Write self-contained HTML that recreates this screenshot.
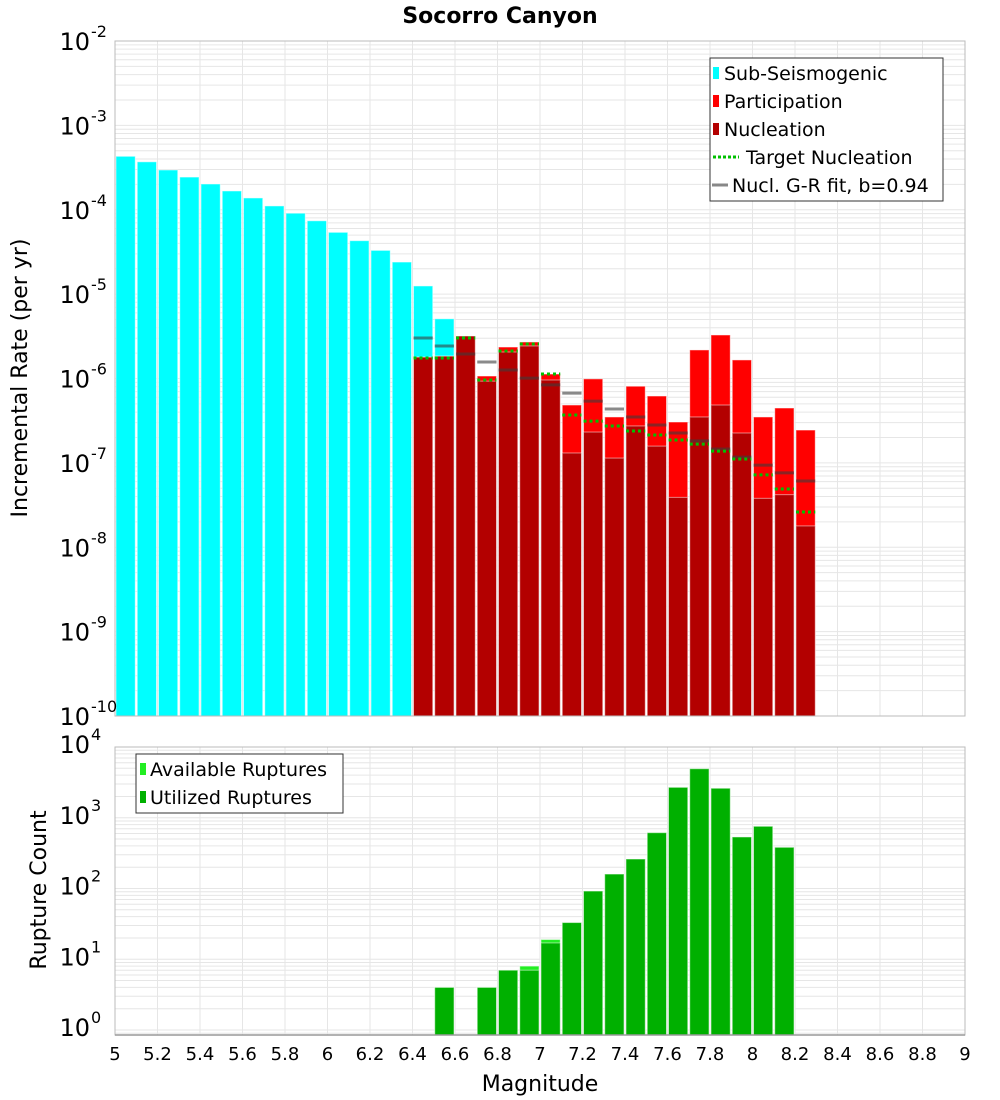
<!DOCTYPE html>
<html><head><meta charset="utf-8"><style>
body{margin:0;background:#fff;}
svg{display:block;font-family:"DejaVu Sans","Liberation Sans",sans-serif;}
</style></head><body>
<svg id="chart" width="1000" height="1100" xmlns="http://www.w3.org/2000/svg">
<text x="500" y="23" text-anchor="middle" font-size="22" font-weight="bold">Socorro Canyon</text>
<g id="topPlot"></g>
<g id="botPlot"></g>
<text transform="translate(27,378) rotate(-90)" text-anchor="middle" font-size="22">Incremental Rate (per yr)</text>
<text transform="translate(46,890) rotate(-90)" text-anchor="middle" font-size="22">Rupture Count</text>
<text x="540" y="1091" text-anchor="middle" font-size="22">Magnitude</text>
</svg>
<script>
const subMags=[5.05,5.15,5.25,5.35,5.45,5.55,5.65,5.75,5.85,5.95,6.05,6.15,6.25,6.35,6.45,6.55];
const subRates=[4.3e-4,3.7e-4,2.96e-4,2.44e-4,2.02e-4,1.67e-4,1.38e-4,1.11e-4,9.1e-5,7.4e-5,5.4e-5,4.3e-5,3.3e-5,2.4e-5,1.25e-5,5.1e-6];
const faultMags=[6.45,6.55,6.65,6.75,6.85,6.95,7.05,7.15,7.25,7.35,7.45,7.55,7.65,7.75,7.85,7.95,8.05,8.15,8.25];
const partRates=[1.8e-6,1.85e-6,3.19e-6,1.07e-6,2.36e-6,2.71e-6,1.13e-6,4.85e-7,9.9e-7,3.5e-7,8.1e-7,6.2e-7,3.05e-7,2.18e-6,3.28e-6,1.66e-6,3.5e-7,4.47e-7,2.45e-7];
const nuclRates=[1.8e-6,1.85e-6,3.19e-6,9.3e-7,2.06e-6,2.43e-6,9.6e-7,1.31e-7,2.32e-7,1.14e-7,2.74e-7,1.58e-7,3.9e-8,3.5e-7,4.85e-7,2.26e-7,3.8e-8,4.2e-8,1.79e-8];
const targetRates=[1.75e-6,1.75e-6,3.02e-6,9.6e-7,2.12e-6,2.56e-6,1.13e-6,3.69e-7,3.13e-7,2.74e-7,2.39e-7,2.14e-7,1.87e-7,1.67e-7,1.38e-7,1.11e-7,7.2e-8,4.9e-8,2.62e-8];
const grRates=[3.02e-6,2.43e-6,1.95e-6,1.57e-6,1.26e-6,1.01e-6,8.4e-7,6.7e-7,5.4e-7,4.35e-7,3.5e-7,2.81e-7,2.26e-7,1.82e-7,1.46e-7,1.17e-7,9.4e-8,7.6e-8,6.1e-8];
const countMags=[6.55,6.75,6.85,6.95,7.05,7.15,7.25,7.35,7.45,7.55,7.65,7.75,7.85,7.95,8.05,8.15];
const availCounts=[4,4,7,8,19,33,92,160,261,615,2690,4930,2610,535,757,382];
const usedCounts=[4,4,7,7,17,33,92,160,261,615,2690,4930,2610,535,757,382];
const xTicks=[5,5.2,5.4,5.6,5.8,6,6.2,6.4,6.6,6.8,7,7.2,7.4,7.6,7.8,8,8.2,8.4,8.6,8.8,9];
const topExps=[-2,-3,-4,-5,-6,-7,-8,-9,-10];
const botExps=[4,3,2,1,0];

const NS="http://www.w3.org/2000/svg";
const X0=115,X1=965;
const xs=m=>X0+(m-5)/4*(X1-X0);
const BW=(X1-X0)/40;
const T0=41,T1=716;
const yTop=v=>T0+(-2-Math.log10(v))/8*(T1-T0);
const B0=747,B1=1035,BD=70.75;
const yBot=v=>B0+(4-Math.log10(v))*BD;
function mk(p,tag,a){const e=document.createElementNS(NS,tag);for(const k in a)e.setAttribute(k,a[k]);p.appendChild(e);return e;}
const topG=document.getElementById('topPlot'),botG=document.getElementById('botPlot');

function grid(g,y0,y1,decs,yf){
  mk(g,'rect',{x:X0,y:y0,width:X1-X0,height:y1-y0,fill:'#fff'});
  decs.forEach(e=>{for(let k=1;k<10;k++){const y=yf(k*Math.pow(10,e));if(y>=y0&&y<=y1){mk(g,'line',{x1:X0,x2:X1,y1:y,y2:y,stroke:'#e6e6e6','stroke-width':1});}}});
  xTicks.forEach(m=>{mk(g,'line',{x1:xs(m),x2:xs(m),y1:y0,y2:y1,stroke:'#e6e6e6','stroke-width':1});});
}
grid(topG,T0,T1,[-3,-4,-5,-6,-7,-8,-9,-10],yTop);
grid(botG,B0,B1,[-1,0,1,2,3],yBot);

function bar(g,m,v,base,fill,name,yf){
  const y=yf(v);const r=mk(g,'rect',{x:xs(m)-BW/2+1,y:y,width:BW-2,height:Math.max(0,base-y),fill:fill,stroke:'rgba(255,255,255,0.5)','stroke-width':1});
  
  
}
partRates.forEach((v,i)=>bar(topG,faultMags[i],v,T1,'#ff0000','participation-bar',yTop));
nuclRates.forEach((v,i)=>bar(topG,faultMags[i],v,T1,'#b30000','nucleation-bar',yTop));
subRates.forEach((v,i)=>{const m=subMags[i];const idx=faultMags.indexOf(m);const base=idx>=0?yTop(nuclRates[idx]):T1;bar(topG,m,v,base,'#00ffff','sub-seismogenic-bar',yTop);});
grRates.forEach((v,i)=>{const m=faultMags[i],y=yTop(v);const l=mk(topG,'line',{x1:xs(m)-BW/2+1,x2:xs(m)+BW/2-1,y1:y,y2:y,stroke:'rgba(60,60,60,0.6)','stroke-width':3});
  
  });
targetRates.forEach((v,i)=>{const m=faultMags[i],y=yTop(v);const l=mk(topG,'line',{x1:xs(m)-BW/2+1,x2:xs(m)+BW/2-1,y1:y,y2:y,stroke:'#00c000','stroke-width':3,'stroke-dasharray':'3,3'});
  
  });
availCounts.forEach((v,i)=>bar(botG,countMags[i],v,B1,'#22ee22','available-ruptures-bar',yBot));
usedCounts.forEach((v,i)=>bar(botG,countMags[i],v,B1,'#00b000','utilized-ruptures-bar',yBot));

mk(topG,'rect',{x:X0,y:T0,width:X1-X0,height:T1-T0,fill:'none',stroke:'#bbb'});
mk(botG,'rect',{x:X0,y:B0,width:X1-X0,height:B1-B0,fill:'none',stroke:'#bbb'});
mk(botG,'line',{x1:X0,x2:X1,y1:B1,y2:B1,stroke:'#999','stroke-width':1.5});

function ylab(g,e,y,name){const t=mk(g,'text',{x:90,y:y+9,'text-anchor':'end','font-size':24});t.textContent='10';
  
  
  const s=mk(g,'text',{x:91,y:y-4,'font-size':16});s.textContent=String(e);}
topExps.forEach(e=>ylab(topG,e,yTop(Math.pow(10,e)),'top-y-tick-label'));
botExps.forEach(e=>ylab(botG,e,yBot(Math.pow(10,e))-3,'bottom-y-tick-label'));
xTicks.forEach(m=>{const t=mk(botG,'text',{x:xs(m),y:1060,'text-anchor':'middle','font-size':18});t.textContent=String(m);
  
  });

const lg=mk(topG,'g',{});


mk(lg,'rect',{x:710,y:58,width:233,height:143,fill:'#fff',stroke:'#333'});
[['Sub-Seismogenic','#00ffff'],['Participation','#ff0000'],['Nucleation','#b30000']].forEach((d,i)=>{const y=73+i*28;
  mk(lg,'rect',{x:713,y:y-6,width:6,height:12,fill:d[1]});const tt=mk(lg,'text',{x:724,y:y+7,'font-size':19});tt.textContent=d[0];});
mk(lg,'line',{x1:713,x2:739,y1:157,y2:157,stroke:'#00c000','stroke-width':3,'stroke-dasharray':'3,2'});
let lt=mk(lg,'text',{x:746,y:164,'font-size':19});lt.textContent='Target Nucleation';
mk(lg,'line',{x1:712,x2:728,y1:185,y2:185,stroke:'#888','stroke-width':3});
lt=mk(lg,'text',{x:732,y:192,'font-size':19});lt.textContent='Nucl. G-R fit, b=0.94';
const lb=mk(botG,'g',{});


mk(lb,'rect',{x:136,y:754,width:207,height:59,fill:'#fff',stroke:'#333'});
[['Available Ruptures','#22ee22'],['Utilized Ruptures','#00b000']].forEach((d,i)=>{const y=769+i*28;
  mk(lb,'rect',{x:140,y:y-6,width:6,height:12,fill:d[1]});const tt=mk(lb,'text',{x:150,y:y+7,'font-size':19});tt.textContent=d[0];});
</script>
</body></html>
